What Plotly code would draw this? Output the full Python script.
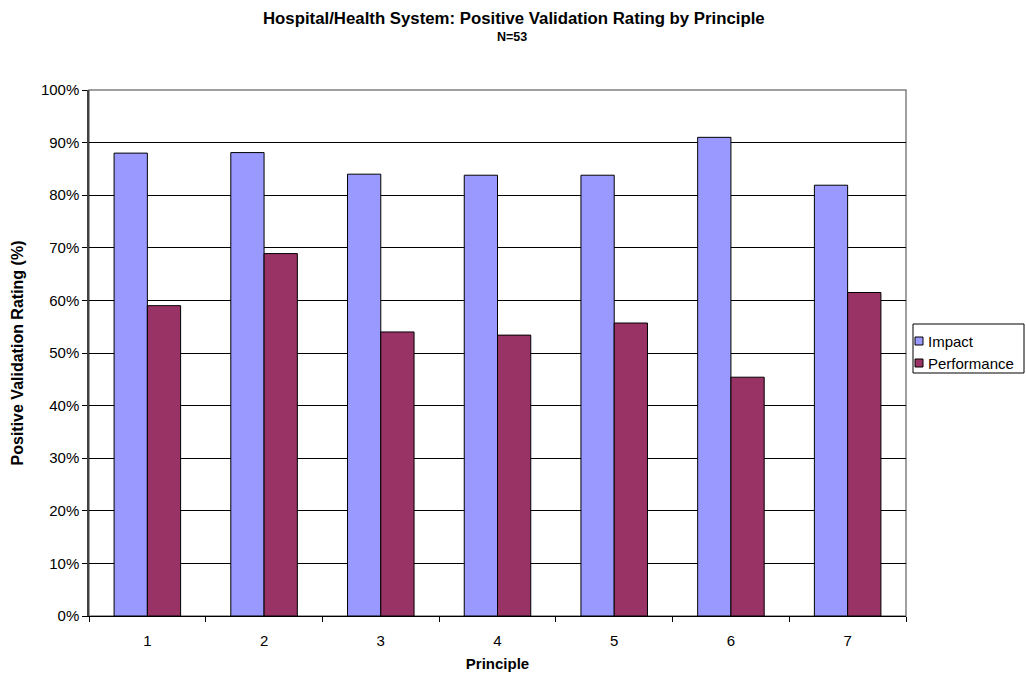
import plotly.graph_objects as go

# Validation ratings per principle (percent)
principles = ["1", "2", "3", "4", "5", "6", "7"]
impact = [88.0, 88.1, 84.0, 83.8, 83.8, 91.0, 81.9]
performance = [59.0, 68.9, 54.0, 53.4, 55.7, 45.4, 61.5]
y_ticks = list(range(0, 101, 10))
y_tick_labels = [f"{v}%" for v in y_ticks]

series_names = ["Impact", "Performance"]
series_colors = ["#9999FF", "#993366"]

FONT = "Liberation Sans, Arial, sans-serif"
W, H = 1026, 677
ML, MR, MT, MB = 89, 120, 90, 61
PW, PH = W - ML - MR, H - MT - MB


def px_x(x):
    """Pixel column -> paper x."""
    return (x - ML) / PW


def px_y(y):
    """Pixel row -> paper y."""
    return (H - MB - y) / PH


fig = go.Figure()
for name, vals, col in zip(series_names, [impact, performance], series_colors):
    fig.add_trace(go.Bar(
        x=principles, y=vals, name=name, showlegend=False,
        marker=dict(color=col, line=dict(color="#000000", width=1)),
    ))

# Legend box drawn beside the plot area
shapes = [
    dict(type="rect", xref="paper", yref="paper", x0=0, y0=0, x1=1, y1=1,
         line=dict(color="#808080", width=1.5), layer="below"),
    dict(type="rect", xref="paper", yref="paper",
         x0=px_x(913), x1=px_x(1024), y0=px_y(373), y1=px_y(324),
         line=dict(color="#000000", width=1), fillcolor="white"),
]
annotations = [
    dict(text="<b>Hospital/Health System: Positive Validation Rating by Principle</b>",
         xref="paper", yref="paper", x=0.5, y=1, yanchor="middle",
         yshift=72, xshift=16,
         showarrow=False, font=dict(family=FONT, size=16.8)),
    dict(text="<b>N=53</b>",
         xref="paper", yref="paper", x=0.5, y=1, yanchor="middle",
         yshift=53, xshift=14,
         showarrow=False, font=dict(family=FONT, size=12.5)),
]
for i, (name, col) in enumerate(zip(series_names, series_colors)):
    cy = 341 + 22 * i
    shapes.append(dict(type="rect", xref="paper", yref="paper",
                       x0=px_x(915), x1=px_x(923), y0=px_y(cy + 4), y1=px_y(cy - 4),
                       line=dict(color="#000000", width=1), fillcolor=col))
    annotations.append(dict(text=name, xref="paper", yref="paper",
                            x=px_x(926), y=px_y(cy), xanchor="left", yanchor="middle",
                            showarrow=False, font=dict(family=FONT, size=15)))

fig.update_layout(
    width=W, height=H,
    margin=dict(l=ML, r=MR, t=MT, b=MB, autoexpand=False),
    paper_bgcolor="white", plot_bgcolor="white",
    barmode="group", bargap=0.43, bargroupgap=0,
    font=dict(family=FONT, size=15, color="#000000"),
    showlegend=False,
    annotations=annotations,
    shapes=shapes,
)

fig.update_xaxes(
    type="category", tickson="boundaries",
    ticks="outside", ticklen=5, tickcolor="#000000",
    ticklabelstandoff=11,
    showline=True, linecolor="#000000", linewidth=1,
    showgrid=False,
    tickfont=dict(family=FONT, size=15),
    title=dict(text="<b>Principle</b>", font=dict(family=FONT, size=15), standoff=10),
)
fig.update_yaxes(
    range=[0, 100], tickvals=y_ticks, ticktext=y_tick_labels,
    ticks="outside", ticklen=5, tickcolor="#000000",
    showline=True, linecolor="#404040", linewidth=1.5,
    showgrid=True, gridcolor="#000000", gridwidth=1,
    zeroline=False,
    tickfont=dict(family=FONT, size=15),
    title=dict(text="<b>Positive Validation Rating (%)</b>", font=dict(family=FONT, size=16), standoff=13),
)

fig.write_html("out.html")
